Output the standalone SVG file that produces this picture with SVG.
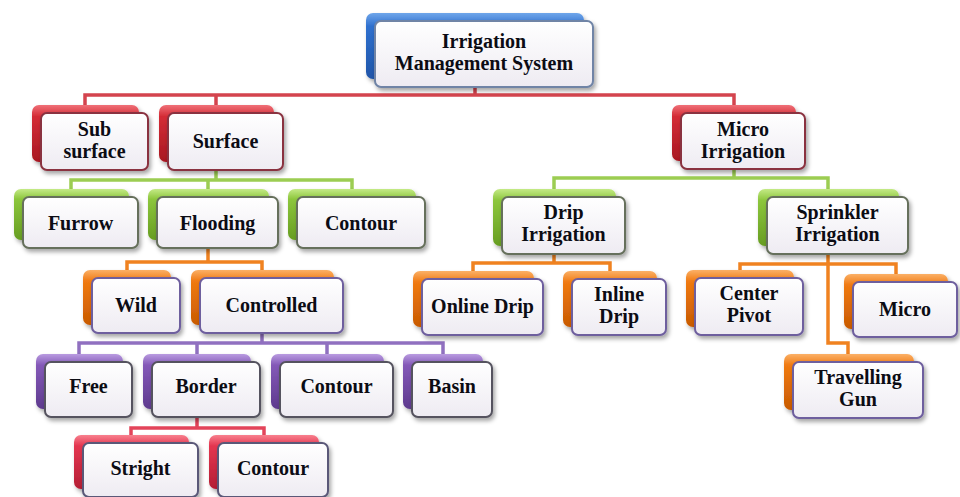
<svg xmlns="http://www.w3.org/2000/svg" width="960" height="497" viewBox="0 0 960 497">
<defs>
<linearGradient id="gBlue" x1="0" y1="0" x2="0" y2="1"><stop offset="0" stop-color="#6fa6ea"/><stop offset="0.2" stop-color="#2f70cf"/><stop offset="1" stop-color="#1f55a8"/></linearGradient>
<linearGradient id="gRed" x1="0" y1="0" x2="0" y2="1"><stop offset="0" stop-color="#f07078"/><stop offset="0.2" stop-color="#d42c36"/><stop offset="1" stop-color="#a81822"/></linearGradient>
<linearGradient id="gGreen" x1="0" y1="0" x2="0" y2="1"><stop offset="0" stop-color="#c4ea86"/><stop offset="0.2" stop-color="#8cc63c"/><stop offset="1" stop-color="#679d22"/></linearGradient>
<linearGradient id="gOrange" x1="0" y1="0" x2="0" y2="1"><stop offset="0" stop-color="#fbb066"/><stop offset="0.2" stop-color="#f07a12"/><stop offset="1" stop-color="#c85a02"/></linearGradient>
<linearGradient id="gPurple" x1="0" y1="0" x2="0" y2="1"><stop offset="0" stop-color="#b99be0"/><stop offset="0.2" stop-color="#8459b8"/><stop offset="1" stop-color="#5e3a8e"/></linearGradient>
<linearGradient id="gPink" x1="0" y1="0" x2="0" y2="1"><stop offset="0" stop-color="#f8808e"/><stop offset="0.2" stop-color="#e43650"/><stop offset="1" stop-color="#b41e34"/></linearGradient>
<linearGradient id="gFront" x1="0" y1="0" x2="0" y2="1"><stop offset="0" stop-color="#ffffff"/><stop offset="1" stop-color="#eeebf2"/></linearGradient>
<filter id="sh" x="-10%" y="-10%" width="130%" height="140%"><feDropShadow dx="2" dy="3" stdDeviation="2" flood-color="#000" flood-opacity="0.35"/></filter>
</defs>
<style>
.back{filter:url(#sh)}
.front{fill:url(#gFront);stroke-width:2;filter:url(#sh)}
.blue .back{fill:url(#gBlue)} .blue .front{stroke:#6f84a6}
.red .back{fill:url(#gRed)} .red .front{stroke:#8a3340}
.green .back{fill:url(#gGreen)} .green .front{stroke:#66705c}
.orange .back{fill:url(#gOrange)} .orange .front{stroke:#6e5e9e}
.purple .back{fill:url(#gPurple)} .purple .front{stroke:#55535f}
.pink .back{fill:url(#gPink)} .pink .front{stroke:#5a5878}
text{font-family:"Liberation Serif","Times New Roman",serif;font-weight:bold;font-size:20px;fill:#0c0c14;text-anchor:middle}
.c{fill:none;stroke-width:3.5;stroke-linecap:square}
.cr{stroke:#d4444e} .cg{stroke:#9ccd52} .co{stroke:#f08220} .cp{stroke:#9070c0} .ck{stroke:#e3445a}
</style>
<rect width="960" height="497" fill="#ffffff"/>
<g id="connectors">
<path class="c cr" d="M475,87V95M85,95H734M85,95V105M216,95V105M734,95V105"/>
<path class="c cg" d="M216,170V180M71,180H352M71,180V189M208,180V189M352,180V189"/>
<path class="c cg" d="M734,169V178M554,178H828M554,178V189M828,178V189"/>
<path class="c co" d="M208,248V262M127,262H262M127,262V270M262,262V270"/>
<path class="c co" d="M554,254V263M473,263H610M473,263V271M610,263V271"/>
<path class="c co" d="M828,254V343H848V354M740,264H896M740,264V270M896,264V274"/>
<path class="c cp" d="M262,333V343M79,343H443M79,343V354M197,343V354M327,343V354M443,343V354"/>
<path class="c ck" d="M197,417V428M131,428H264M131,428V435M264,428V435"/>
</g>
<g id="root" class="blue"><rect class="back" x="366" y="13" width="218" height="66" rx="7"/><rect class="front" x="375" y="21" width="218" height="66" rx="6"/><text x="484" y="48">Irrigation</text><text x="484" y="70">Management System</text></g>
<g id="subsurface" class="red"><rect class="back" x="32" y="105" width="107" height="57" rx="7"/><rect class="front" x="41" y="113" width="107" height="57" rx="6"/><text x="94.5" y="136">Sub</text><text x="94.5" y="158">surface</text></g>
<g id="surface" class="red"><rect class="back" x="159" y="105" width="115" height="57" rx="7"/><rect class="front" x="168" y="113" width="115" height="57" rx="6"/><text x="225.5" y="148">Surface</text></g>
<g id="microirrigation" class="red"><rect class="back" x="672" y="105" width="124" height="56" rx="7"/><rect class="front" x="681" y="113" width="124" height="56" rx="6"/><text x="743" y="136">Micro</text><text x="743" y="158">Irrigation</text></g>
<g id="furrow" class="green"><rect class="back" x="14" y="189" width="115" height="51" rx="7"/><rect class="front" x="23" y="197" width="115" height="51" rx="6"/><text x="80.5" y="230">Furrow</text></g>
<g id="flooding" class="green"><rect class="back" x="148" y="189" width="121" height="51" rx="7"/><rect class="front" x="157" y="197" width="121" height="51" rx="6"/><text x="217.5" y="230">Flooding</text></g>
<g id="contour1" class="green"><rect class="back" x="288" y="189" width="128" height="51" rx="7"/><rect class="front" x="297" y="197" width="128" height="51" rx="6"/><text x="361" y="230">Contour</text></g>
<g id="drip" class="green"><rect class="back" x="493" y="189" width="123" height="57" rx="7"/><rect class="front" x="502" y="197" width="123" height="57" rx="6"/><text x="563.5" y="219">Drip</text><text x="563.5" y="241">Irrigation</text></g>
<g id="sprinkler" class="green"><rect class="back" x="758" y="189" width="141" height="57" rx="7"/><rect class="front" x="767" y="197" width="141" height="57" rx="6"/><text x="837.5" y="219">Sprinkler</text><text x="837.5" y="241">Irrigation</text></g>
<g id="wild" class="orange"><rect class="back" x="83" y="270" width="88" height="55" rx="7"/><rect class="front" x="92" y="278" width="88" height="55" rx="6"/><text x="136" y="312">Wild</text></g>
<g id="controlled" class="orange"><rect class="back" x="191" y="270" width="143" height="55" rx="7"/><rect class="front" x="200" y="278" width="143" height="55" rx="6"/><text x="271.5" y="312">Controlled</text></g>
<g id="onlinedrip" class="orange"><rect class="back" x="413" y="271" width="121" height="56" rx="7"/><rect class="front" x="422" y="279" width="121" height="56" rx="6"/><text x="482.5" y="313">Online Drip</text></g>
<g id="inlinedrip" class="orange"><rect class="back" x="563" y="271" width="94" height="56" rx="7"/><rect class="front" x="572" y="279" width="94" height="56" rx="6"/><text x="619" y="301">Inline</text><text x="619" y="323">Drip</text></g>
<g id="centerpivot" class="orange"><rect class="back" x="686" y="270" width="108" height="57" rx="7"/><rect class="front" x="695" y="278" width="108" height="57" rx="6"/><text x="749" y="300">Center</text><text x="749" y="322">Pivot</text></g>
<g id="micro" class="orange"><rect class="back" x="844" y="274" width="104" height="55" rx="7"/><rect class="front" x="853" y="282" width="104" height="55" rx="6"/><text x="905" y="316">Micro</text></g>
<g id="travellinggun" class="orange"><rect class="back" x="784" y="354" width="130" height="56" rx="7"/><rect class="front" x="793" y="362" width="130" height="56" rx="6"/><text x="858" y="384">Travelling</text><text x="858" y="406">Gun</text></g>
<g id="free" class="purple"><rect class="back" x="36" y="354" width="87" height="55" rx="7"/><rect class="front" x="45" y="362" width="87" height="55" rx="6"/><text x="88.5" y="393">Free</text></g>
<g id="border" class="purple"><rect class="back" x="143" y="354" width="108" height="55" rx="7"/><rect class="front" x="152" y="362" width="108" height="55" rx="6"/><text x="206" y="393">Border</text></g>
<g id="contour2" class="purple"><rect class="back" x="271" y="354" width="113" height="55" rx="7"/><rect class="front" x="280" y="362" width="113" height="55" rx="6"/><text x="336.5" y="393">Contour</text></g>
<g id="basin" class="purple"><rect class="back" x="403" y="354" width="80" height="55" rx="7"/><rect class="front" x="412" y="362" width="80" height="55" rx="6"/><text x="452" y="393">Basin</text></g>
<g id="stright" class="pink"><rect class="back" x="74" y="435" width="115" height="54" rx="7"/><rect class="front" x="83" y="443" width="115" height="54" rx="6"/><text x="140.5" y="475">Stright</text></g>
<g id="contour3" class="pink"><rect class="back" x="209" y="435" width="110" height="54" rx="7"/><rect class="front" x="218" y="443" width="110" height="54" rx="6"/><text x="273" y="475">Contour</text></g>
</svg>
